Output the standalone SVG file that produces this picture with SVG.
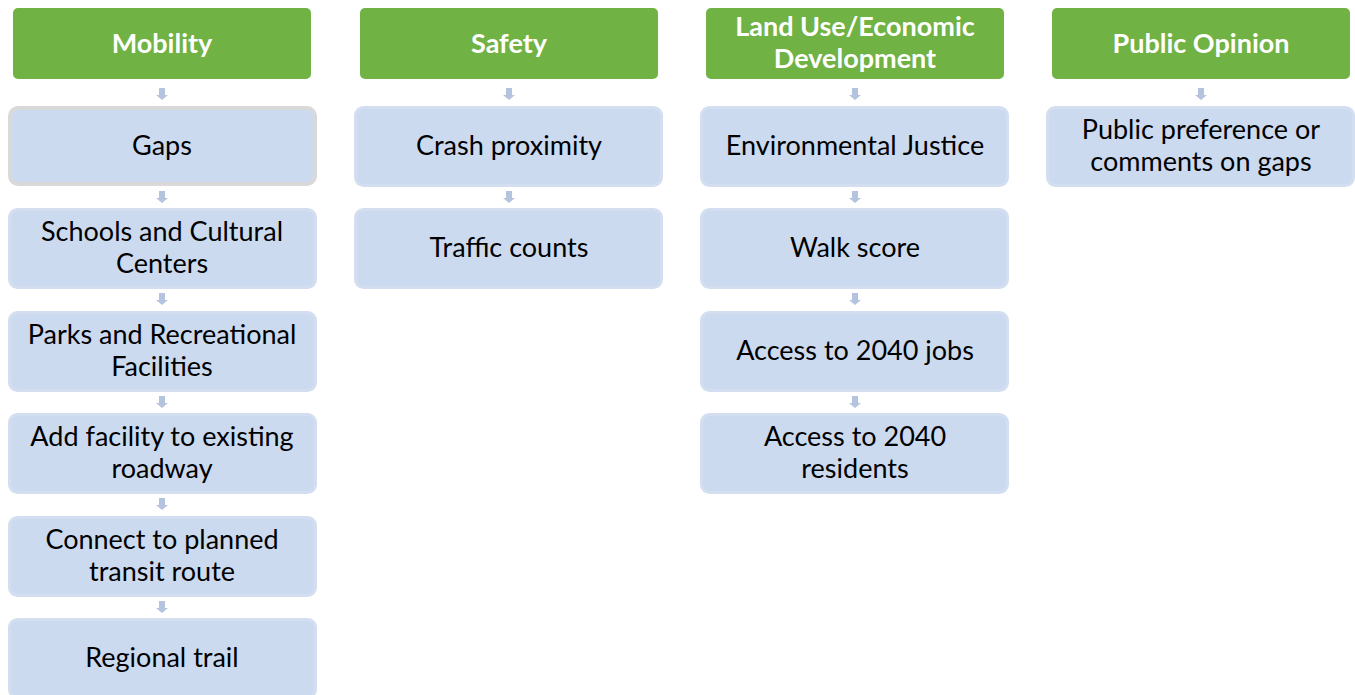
<svg xmlns="http://www.w3.org/2000/svg" width="1355" height="695" viewBox="0 0 1355 695">
  <style>
    .hdr { fill: #70b244; }
    .box { fill: #ccdaf0; stroke: #d3def1; stroke-width: 3; }
    .sel { fill: #ccdaf0; stroke: #d9d9d9; stroke-width: 4; }
    .ht { font-family: Lato, "Liberation Sans", sans-serif; font-weight: bold; font-size: 27px; fill: #ffffff; text-anchor: middle; }
    .bt { font-family: Lato, "Liberation Sans", sans-serif; font-size: 27px; fill: #000000; text-anchor: middle; }
    .arr { fill: #b4c3de; }
  </style>
  <defs>
    <path id="dn" d="M-3,0 H3 V7 H6 L0,12 L-6,7 H-3 Z"/>
  </defs>
  <rect width="1355" height="695" fill="#ffffff"/>

  <!-- connectors -->
  <g id="connectors" class="arr">
    <use href="#dn" x="162" y="88"/>
    <use href="#dn" x="162" y="191"/>
    <use href="#dn" x="162" y="293"/>
    <use href="#dn" x="162" y="396"/>
    <use href="#dn" x="162" y="498"/>
    <use href="#dn" x="162" y="601"/>
    <use href="#dn" x="509" y="88"/>
    <use href="#dn" x="509" y="191"/>
    <use href="#dn" x="855" y="88"/>
    <use href="#dn" x="855" y="191"/>
    <use href="#dn" x="855" y="293"/>
    <use href="#dn" x="855" y="396"/>
    <use href="#dn" x="1201" y="88"/>
  </g>

  <!-- Mobility column -->
  <g id="mobility">
    <rect class="hdr" x="13" y="8" width="298" height="71" rx="5"/>
    <text class="ht" x="162" y="53">Mobility</text>
  </g>
  <g id="gaps">
    <rect class="sel" x="10" y="108" width="305" height="76" rx="8"/>
    <text class="bt" x="162" y="155">Gaps</text>
  </g>
  <g id="schools">
    <rect class="box" x="9.5" y="209.5" width="306" height="78" rx="8"/>
    <text class="bt" x="162" y="241">Schools and Cultural</text>
    <text class="bt" x="162" y="273">Centers</text>
  </g>
  <g id="parks">
    <rect class="box" x="9.5" y="312.5" width="306" height="78" rx="8"/>
    <text class="bt" x="162" y="344">Parks and Recreational</text>
    <text class="bt" x="162" y="376">Facilities</text>
  </g>
  <g id="add-facility">
    <rect class="box" x="9.5" y="414.5" width="306" height="78" rx="8"/>
    <text class="bt" x="162" y="446">Add facility to existing</text>
    <text class="bt" x="162" y="478">roadway</text>
  </g>
  <g id="transit">
    <rect class="box" x="9.5" y="517.5" width="306" height="78" rx="8"/>
    <text class="bt" x="162" y="549">Connect to planned</text>
    <text class="bt" x="162" y="581">transit route</text>
  </g>
  <g id="regional-trail">
    <rect class="box" x="9.5" y="619.5" width="306" height="78" rx="8"/>
    <text class="bt" x="162" y="667">Regional trail</text>
  </g>

  <!-- Safety column -->
  <g id="safety">
    <rect class="hdr" x="360" y="8" width="298" height="71" rx="5"/>
    <text class="ht" x="509" y="53">Safety</text>
  </g>
  <g id="crash">
    <rect class="box" x="355.5" y="107.5" width="306" height="78" rx="8"/>
    <text class="bt" x="509" y="155">Crash proximity</text>
  </g>
  <g id="traffic">
    <rect class="box" x="355.5" y="209.5" width="306" height="78" rx="8"/>
    <text class="bt" x="509" y="257">Traffic counts</text>
  </g>

  <!-- Land use column -->
  <g id="landuse">
    <rect class="hdr" x="706" y="8" width="298" height="71" rx="5"/>
    <text class="ht" x="855" y="36">Land Use/Economic</text>
    <text class="ht" x="855" y="68">Development</text>
  </g>
  <g id="ej">
    <rect class="box" x="701.5" y="107.5" width="306" height="78" rx="8"/>
    <text class="bt" x="855" y="155">Environmental Justice</text>
  </g>
  <g id="walk">
    <rect class="box" x="701.5" y="209.5" width="306" height="78" rx="8"/>
    <text class="bt" x="855" y="257">Walk score</text>
  </g>
  <g id="jobs">
    <rect class="box" x="701.5" y="312.5" width="306" height="78" rx="8"/>
    <text class="bt" x="855" y="360">Access to 2040 jobs</text>
  </g>
  <g id="residents">
    <rect class="box" x="701.5" y="414.5" width="306" height="78" rx="8"/>
    <text class="bt" x="855" y="446">Access to 2040</text>
    <text class="bt" x="855" y="478">residents</text>
  </g>

  <!-- Public opinion column -->
  <g id="public">
    <rect class="hdr" x="1052" y="8" width="298" height="71" rx="5"/>
    <text class="ht" x="1201" y="53">Public Opinion</text>
  </g>
  <g id="preference">
    <rect class="box" x="1047.5" y="107.5" width="306" height="78" rx="8"/>
    <text class="bt" x="1201" y="139">Public preference or</text>
    <text class="bt" x="1201" y="171">comments on gaps</text>
  </g>
</svg>
